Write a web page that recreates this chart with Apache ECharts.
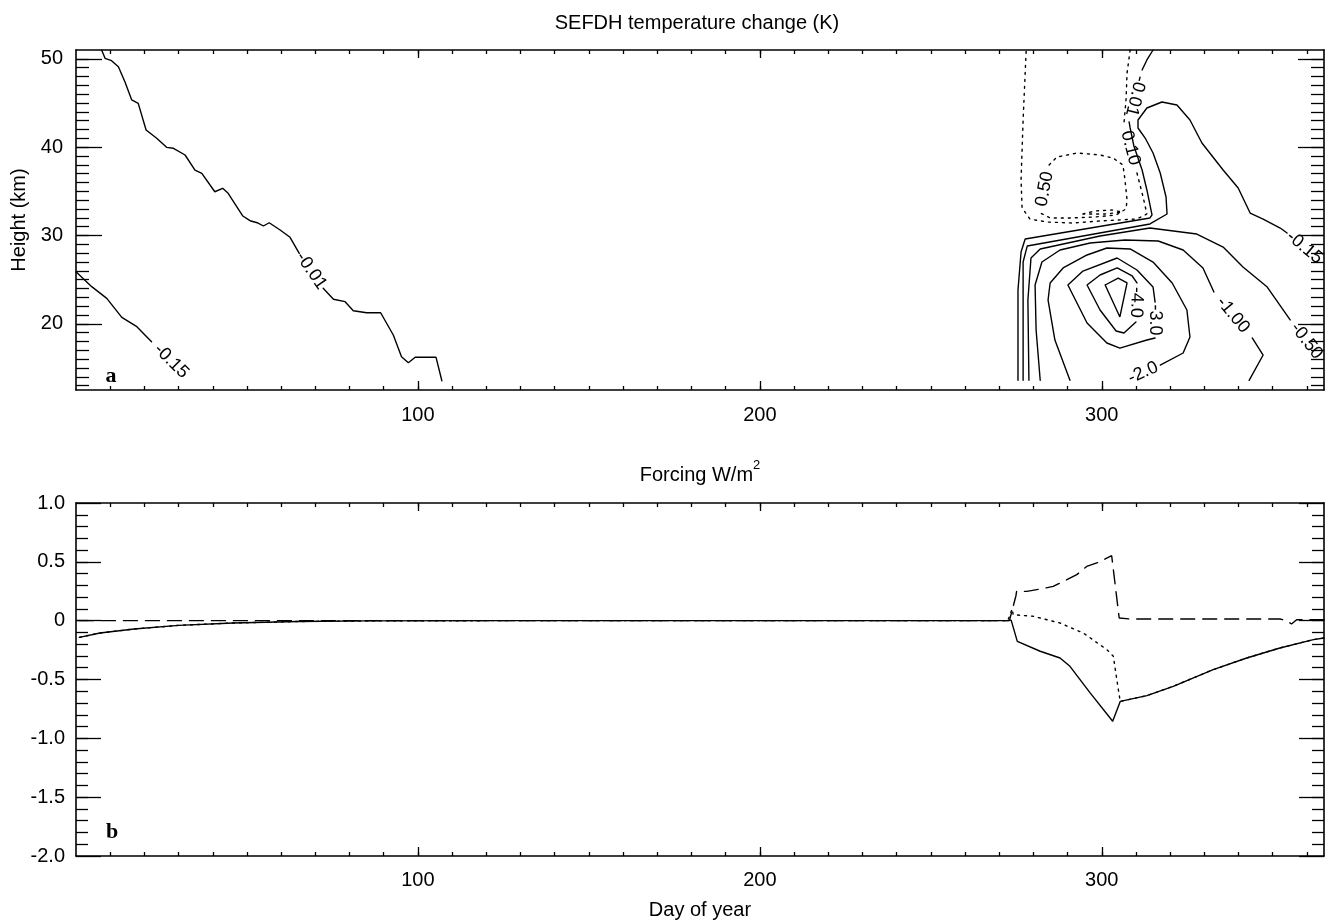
<!DOCTYPE html>
<html>
<head>
<meta charset="utf-8">
<title>SEFDH temperature change and forcing</title>
<script src="https://cdn.jsdelivr.net/npm/echarts@6/dist/echarts.min.js"></script>
<style>
  html, body { margin: 0; padding: 0; background: #ffffff; }
  #chart { width: 1326px; height: 921px; }
</style>
</head>
<body>
<div id="chart"></div>
<script>
// ---------------------------------------------------------------------------
// Panel a: temperature change contours, points are [day of year, height km].
// A null entry breaks the contour where its level label is written.
// ---------------------------------------------------------------------------
const cM001Left = [
  [7.5, 51.0], [8.5, 50.06], [10.4, 49.79], [12.4, 49.11], [14.3, 47.41], [16.3, 45.34],
  [18.2, 44.96], [20.5, 41.94], [23.6, 41.0], [26.5, 39.98], [28.5, 39.87], [31.9, 39.11],
  [34.8, 37.41], [36.8, 37.04], [40.6, 34.95], [42.9, 35.34], [44.5, 34.77], [48.8, 32.2],
  [50.9, 31.67], [53.0, 31.44], [54.8, 31.07], [56.5, 31.44], [59.7, 30.62], [62.6, 29.79],
  [65.3, 27.98],
  null,
  [72.3, 24.01], [75.3, 22.77], [78.7, 22.5], [81.1, 21.48], [85.0, 21.25], [89.1, 21.25],
  [92.8, 18.73], [95.2, 16.27], [97.2, 15.59], [99.2, 16.2], [105.3, 16.2], [107.0, 13.55]
];
const cM015Left = [
  [0, 25.9], [4.6, 24.2], [9.0, 22.88], [13.4, 20.73], [17.8, 19.67], [22.1, 17.97],
  null,
  [33.6, 13.57]
];
const cM001Right = [
  [315.0, 51.0], [313.2, 49.87], [311.8, 48.74],
  null,
  [308.0, 42.85], [308.3, 42.17], [309.4, 40.13], [311.8, 37.41], [313.2, 35.15],
  [314.7, 32.32], [314.1, 31.98], [277.6, 29.60], [276.4, 28.13], [275.5, 23.82], [275.5, 13.6]
];
const cM015Right = [
  [277.0, 13.6], [277.0, 26.99], [278.2, 28.80], [314.1, 31.30], [319.1, 32.43], [318.8, 34.35],
  [317.1, 37.07], [315.0, 39.34], [312.7, 41.03], [310.6, 42.17], [310.6, 43.07], [313.2, 44.43],
  [317.6, 45.11], [322.0, 44.77], [325.8, 43.07], [329.3, 40.47], [335.5, 37.41], [339.9, 35.37],
  [343.4, 32.54], [347.2, 31.86], [352.2, 30.84], [354.2, 30.28],
  null,
  [364.4, 26.99]
];
const cM050 = [
  [278.7, 13.6], [278.4, 22.69], [279.3, 27.45], [282.0, 28.47], [299.5, 29.94], [314.1, 30.84],
  [327.8, 30.16], [335.5, 28.69], [341.3, 26.43], [348.4, 24.16], [355.1, 20.43],
  null,
  [364.7, 15.67]
];
const cM100 = [
  [282.0, 13.6], [280.8, 19.29], [280.5, 24.39], [282.5, 26.99], [287.8, 28.35], [296.6, 29.14],
  [306.8, 29.48], [316.5, 29.37], [323.8, 28.35], [329.6, 26.32], [332.8, 23.60],
  null,
  [344.0, 18.39], [347.2, 16.46], [343.1, 13.6]
];
const cM200 = [
  [307.1, 13.6],
  null,
  [317.1, 15.33], [323.8, 16.69], [325.8, 18.50], [324.9, 21.56], [320.6, 24.62], [315.0, 26.99],
  [308.3, 28.47], [301.5, 28.58], [295.7, 27.79], [288.7, 26.32], [284.9, 24.62], [284.3, 22.69],
  [286.3, 18.16], [290.7, 13.6]
];
const cM300 = [
  [304.5, 27.45], [310.3, 26.09], [315.0, 24.16], [315.6, 22.46],
  null,
  [315.6, 18.39], [313.2, 18.16], [305.3, 17.25], [301.5, 17.82], [295.7, 20.09], [290.1, 24.39],
  [294.5, 25.97], [304.5, 27.45]
];
const cM400 = [
  [304.5, 26.32], [308.9, 25.41], [310.3, 24.62],
  null,
  [310.0, 20.20], [306.5, 18.95], [304.2, 19.18], [299.5, 21.56], [295.7, 24.39], [299.5, 25.52],
  [304.5, 26.32]
];
const cM500 = [[301.0, 24.39], [304.8, 25.18], [307.4, 24.62], [305.3, 20.77], [301.0, 24.39]];
const cP010 = [
  [308.3, 51.0], [307.4, 48.40], [307.1, 45.34], [306.5, 42.73],
  null,
  [310.3, 37.07], [312.1, 34.35], [313.2, 32.43], [310.3, 31.86], [299.5, 31.64], [291.6, 31.41],
  [284.0, 31.52], [279.0, 31.86], [276.7, 33.11], [276.4, 36.28], [277.0, 43.07], [277.9, 51.0]
];
const cP050 = [
  [282.0, 32.54],
  null,
  [284.6, 37.98], [286.9, 38.88], [292.8, 39.34], [299.5, 39.11], [303.3, 38.77], [306.2, 37.98],
  [306.8, 36.28], [307.4, 34.01], [307.1, 33.0], [304.2, 32.32], [298.0, 32.09], [290.7, 31.98],
  [284.9, 31.98], [282.0, 32.54]
];
const cP100 = [[294.5, 32.43], [298.0, 32.77], [303.0, 32.88], [305.9, 32.65], [300.9, 32.43], [294.5, 32.43]];

// level text, line pattern, contour points
const contours = [
  ['-0.01', 'solid', cM001Left],
  ['-0.15', 'solid', cM015Left],
  ['-0.01', 'solid', cM001Right],
  ['-0.15', 'solid', cM015Right],
  ['-0.50', 'solid', cM050],
  ['-1.00', 'solid', cM100],
  ['-2.0', 'solid', cM200],
  ['-3.0', 'solid', cM300],
  ['-4.0', 'solid', cM400],
  ['-5.0', 'solid', cM500],
  ['0.10', 'dotted', cP010],
  ['0.50', 'dotted', cP050],
  ['1.00', 'dotted', cP100]
];

// ---------------------------------------------------------------------------
// Panel b: forcing (W/m2) against day of year
// ---------------------------------------------------------------------------
const forcingSolid = [
  [1, -0.142], [7, -0.105], [17, -0.071], [30, -0.040], [46, -0.020], [65, -0.007], [85, -0.002],
  [120, 0], [200, 0], [272.5, 0], [273.5, 0.005], [275.3, -0.176], [282.0, -0.26], [287.8, -0.317],
  [290.7, -0.388], [296.6, -0.614], [303.2, -0.855], [305.4, -0.686], [313.2, -0.637],
  [320.9, -0.558], [332.6, -0.416], [342.4, -0.317], [352.1, -0.232], [361.9, -0.161], [365, -0.147]
];
const forcingDotted = [
  [1, -0.142], [7, -0.105], [17, -0.071], [30, -0.040], [46, -0.020], [65, -0.007], [85, -0.002],
  [120, 0], [200, 0], [272.5, 0], [273.8, 0.10], [274.1, 0.051], [280.0, 0.037], [287.8, -0.02],
  [294.6, -0.105], [301.5, -0.246], [303.4, -0.303], [304.4, -0.50], [305.4, -0.686],
  [313.2, -0.637], [320.9, -0.558], [332.6, -0.416], [342.4, -0.317], [352.1, -0.232],
  [361.9, -0.161], [365, -0.147]
];
const forcingDashed = [
  [1, 0], [273, 0], [274.9, 0.212], [275.1, 0.249], [278.1, 0.249], [282.0, 0.269], [285.8, 0.291],
  [289.8, 0.348], [292.7, 0.391], [295.6, 0.461], [299.0, 0.495], [302.9, 0.552], [303.4, 0.546],
  [305.1, 0.023], [308.3, 0.014], [352.1, 0.014], [354.1, 0], [355.5, -0.028], [357.0, 0.008],
  [365, 0.008]
];

// ---------------------------------------------------------------------------
// Axis ranges and tick marks
// ---------------------------------------------------------------------------
const dayRange = [0, 365];
const heightRange = [12.5, 51];
const forcingRange = [-2.0, 1.0];
const dayLabels = [100, 200, 300];
const heightLabels = [20, 30, 40, 50];
const forcingLabels = [-2.0, -1.5, -1.0, -0.5, 0, 0.5, 1.0];

const dayMinor = [];
for (let d = 10; d <= 360; d += 10) dayMinor.push(d);
const heightMinor = [];
for (let h = 13; h <= 50; h++) heightMinor.push(h);
const forcingMinor = [];
for (let i = -19; i <= 9; i++) forcingMinor.push(i / 10);

const INK = '#000000';
const FONT = '"Liberation Sans", Arial, Helvetica, sans-serif';

function axis(o) {
  return {
    type: 'value',
    gridIndex: o.grid,
    position: o.position,
    min: o.range[0],
    max: o.range[1],
    axisLine: { show: o.line, onZero: false, lineStyle: { color: INK, width: 1.6 } },
    axisTick: {
      show: true, inside: true, length: o.tickLen, customValues: o.ticks,
      lineStyle: { color: INK, width: 1.3 }
    },
    axisLabel: o.labels ? {
      show: true, customValues: o.labels, color: INK, fontSize: 20, fontFamily: FONT,
      margin: o.margin, formatter: o.formatter
    } : { show: false },
    splitLine: { show: false },
    axisPointer: { show: false },
    name: o.name || '',
    nameLocation: 'middle',
    nameGap: o.nameGap || 0,
    nameTextStyle: { color: INK, fontSize: 20, fontFamily: FONT }
  };
}

const fmtForcing = v => (v === 0 ? '0' : v.toFixed(1));

const xAxes = [
  // panel a
  axis({ grid: 0, position: 'bottom', range: dayRange, line: true, tickLen: 9, ticks: dayLabels, labels: dayLabels, margin: 15 }),
  axis({ grid: 0, position: 'bottom', range: dayRange, line: false, tickLen: 4, ticks: dayMinor }),
  axis({ grid: 0, position: 'top', range: dayRange, line: true, tickLen: 8, ticks: dayLabels }),
  axis({ grid: 0, position: 'top', range: dayRange, line: false, tickLen: 4, ticks: dayMinor }),
  // panel b
  axis({ grid: 1, position: 'bottom', range: dayRange, line: true, tickLen: 9, ticks: dayLabels, labels: dayLabels, margin: 14, name: 'Day of year', nameGap: 44 }),
  axis({ grid: 1, position: 'bottom', range: dayRange, line: false, tickLen: 4, ticks: dayMinor }),
  axis({ grid: 1, position: 'top', range: dayRange, line: true, tickLen: 8, ticks: dayLabels }),
  axis({ grid: 1, position: 'top', range: dayRange, line: false, tickLen: 4, ticks: dayMinor })
];
const yAxes = [
  // panel a
  axis({ grid: 0, position: 'left', range: heightRange, line: true, tickLen: 26, ticks: heightLabels, labels: heightLabels, margin: 13, name: 'Height (km)', nameGap: 40 }),
  axis({ grid: 0, position: 'left', range: heightRange, line: false, tickLen: 13, ticks: heightMinor }),
  axis({ grid: 0, position: 'right', range: heightRange, line: true, tickLen: 26, ticks: heightLabels }),
  axis({ grid: 0, position: 'right', range: heightRange, line: false, tickLen: 13, ticks: heightMinor }),
  // panel b
  axis({ grid: 1, position: 'left', range: forcingRange, line: true, tickLen: 25, ticks: forcingLabels, labels: forcingLabels, margin: 11, formatter: fmtForcing }),
  axis({ grid: 1, position: 'left', range: forcingRange, line: false, tickLen: 12, ticks: forcingMinor }),
  axis({ grid: 1, position: 'right', range: forcingRange, line: true, tickLen: 25, ticks: forcingLabels }),
  axis({ grid: 1, position: 'right', range: forcingRange, line: false, tickLen: 12, ticks: forcingMinor })
];

// ---------------------------------------------------------------------------
// Series
// ---------------------------------------------------------------------------
const DOTS = [2, 5];
const contourSeries = contours.map(([level, pattern, pts]) => ({
  type: 'line',
  name: level,
  xAxisIndex: 0,
  yAxisIndex: 0,
  data: pts.map(p => (p ? p : ['-', '-'])),
  symbol: 'none',
  connectNulls: false,
  silent: true,
  lineStyle: { color: INK, width: 1.4, type: pattern === 'dotted' ? DOTS : 'solid', cap: 'round' }
}));

// label positions: the two ends of each break in a contour
const gapEnds = [];
const gapTexts = [];
contours.forEach(([level, , pts]) => {
  pts.forEach((p, i) => {
    if (p === null) {
      const a = pts[i - 1], b = pts[i + 1];
      gapEnds.push([a[0], a[1], b[0], b[1]]);
      gapTexts.push(level);
    }
  });
});

const labelSeries = {
  type: 'custom',
  xAxisIndex: 0,
  yAxisIndex: 0,
  clip: false,
  silent: true,
  data: gapEnds,
  encode: { x: 0, y: 1 },
  renderItem: function (params, api) {
    const a = api.coord([api.value(0), api.value(1)]);
    const b = api.coord([api.value(2), api.value(3)]);
    return {
      type: 'text',
      x: (a[0] + b[0]) / 2,
      y: (a[1] + b[1]) / 2,
      rotation: Math.atan2(-(b[1] - a[1]), b[0] - a[0]),
      style: {
        text: gapTexts[params.dataIndex],
        fill: INK,
        font: '18px ' + FONT,
        align: 'center',
        verticalAlign: 'middle'
      }
    };
  }
};

function forcingLine(data, type) {
  return {
    type: 'line', xAxisIndex: 4, yAxisIndex: 4, data: data, symbol: 'none', silent: true,
    lineStyle: { color: INK, width: 1.4, type: type, cap: 'round' }
  };
}

const option = {
  animation: false,
  backgroundColor: '#ffffff',
  textStyle: { fontFamily: FONT, color: INK },
  grid: [
    { left: 76, right: 2, top: 50, height: 340, containLabel: false, outerBoundsMode: 'none' },
    { left: 76, right: 2, top: 503, height: 353, containLabel: false, outerBoundsMode: 'none' }
  ],
  xAxis: xAxes,
  yAxis: yAxes,
  series: contourSeries.concat([
    labelSeries,
    forcingLine(forcingDashed, [14, 8]),
    forcingLine(forcingDotted, DOTS),
    forcingLine(forcingSolid, 'solid')
  ]),
  graphic: [
    {
      type: 'text', x: 697, y: 23,
      style: { text: 'SEFDH temperature change (K)', font: '20px ' + FONT, fill: INK, align: 'center', verticalAlign: 'middle' }
    },
    {
      type: 'text', x: 700, y: 472,
      style: {
        text: '{b|Forcing W/m}{sup|2}', fill: INK, align: 'center', verticalAlign: 'middle',
        rich: {
          b: { fontSize: 20, fontFamily: FONT, lineHeight: 26, verticalAlign: 'bottom', fill: INK },
          sup: { fontSize: 13, fontFamily: FONT, lineHeight: 26, verticalAlign: 'top', fill: INK }
        }
      }
    },
    {
      type: 'text', x: 111, y: 376,
      style: { text: 'a', font: 'bold 22px "Liberation Serif", "DejaVu Serif", serif', fill: INK, align: 'center', verticalAlign: 'middle' }
    },
    {
      type: 'text', x: 112, y: 832,
      style: { text: 'b', font: 'bold 22px "Liberation Serif", "DejaVu Serif", serif', fill: INK, align: 'center', verticalAlign: 'middle' }
    }
  ]
};

const chart = echarts.init(document.getElementById('chart'), null, { renderer: 'canvas' });
chart.setOption(option);
</script>
</body>
</html>
